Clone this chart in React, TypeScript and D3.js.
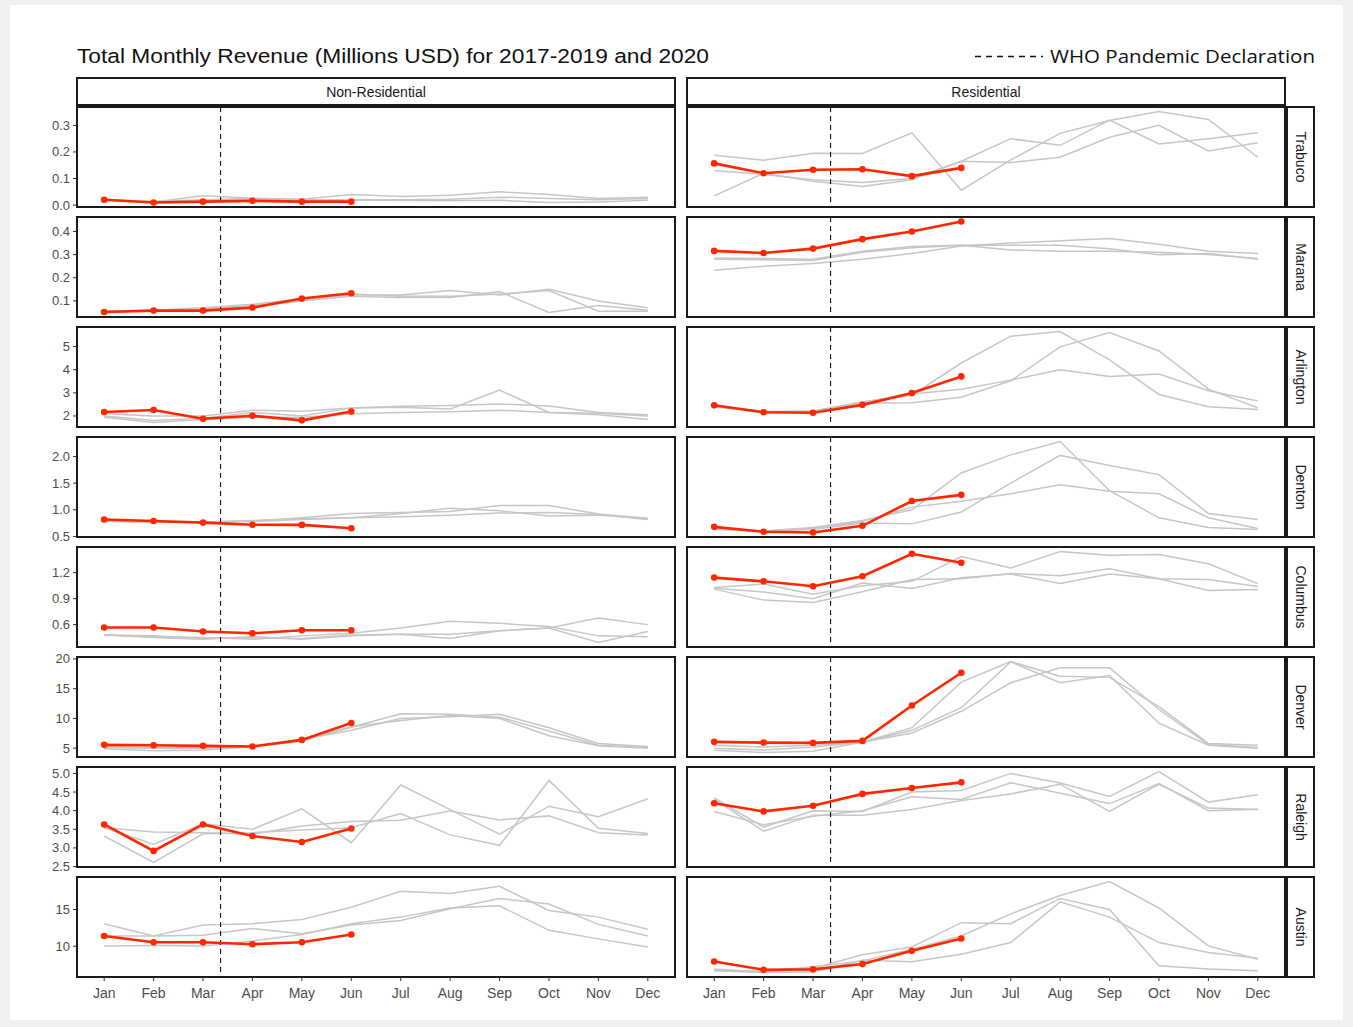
import React from "react";
import * as d3 from "d3";

const months = ["Jan", "Feb", "Mar", "Apr", "May", "Jun", "Jul", "Aug", "Sep", "Oct", "Nov", "Dec"];
const cities = ["Trabuco", "Marana", "Arlington", "Denton", "Columbus", "Denver", "Raleigh", "Austin"];
const types = ["Non-Residential", "Residential"];
const declarationMonth = 3 + 11 / 31; // March 11, 2020

// ---- Trabuco ----
const trabucoNonRes2020 = [0.02, 0.01, 0.013, 0.016, 0.013, 0.013];
const trabucoNonResPast = [
  [0.02, 0.012, 0.035, 0.026, 0.022, 0.04, 0.032, 0.037, 0.05, 0.04, 0.025, 0.03],
  [0.02, 0.014, 0.02, 0.025, 0.02, 0.02, 0.02, 0.022, 0.03, 0.025, 0.02, 0.025],
  [0.018, 0.01, 0.015, 0.02, 0.018, 0.018, 0.017, 0.016, 0.018, 0.01, 0.012, 0.018],
];
const trabucoRes2020 = [0.157, 0.12, 0.133, 0.135, 0.109, 0.14];
const trabucoResPast = [
  [0.188, 0.169, 0.195, 0.194, 0.272, 0.056, 0.17, 0.27, 0.318, 0.352, 0.322, 0.18],
  [0.13, 0.115, 0.095, 0.085, 0.1, 0.165, 0.16, 0.18, 0.255, 0.3, 0.204, 0.235],
  [0.035, 0.12, 0.09, 0.07, 0.095, 0.165, 0.25, 0.225, 0.32, 0.23, 0.25, 0.272],
];
const trabucoTicks = ["0.0", "0.1", "0.2", "0.3"];

// ---- Marana ----
const maranaNonRes2020 = [0.052, 0.058, 0.058, 0.071, 0.11, 0.133];
const maranaNonResPast = [
  [0.055, 0.06, 0.065, 0.08, 0.105, 0.125, 0.125, 0.145, 0.125, 0.15, 0.1, 0.07],
  [0.055, 0.058, 0.06, 0.075, 0.1, 0.12, 0.115, 0.115, 0.14, 0.05, 0.08, 0.06],
  [0.055, 0.06, 0.07, 0.085, 0.11, 0.13, 0.12, 0.12, 0.13, 0.145, 0.055, 0.055],
];
const maranaRes2020 = [0.316, 0.307, 0.326, 0.367, 0.4, 0.443];
const maranaResPast = [
  [0.285, 0.283, 0.28, 0.315, 0.335, 0.34, 0.34, 0.34, 0.325, 0.3, 0.305, 0.28],
  [0.28, 0.278, 0.275, 0.31, 0.33, 0.34, 0.32, 0.315, 0.315, 0.31, 0.3, 0.283],
  [0.232, 0.25, 0.262, 0.28, 0.305, 0.337, 0.35, 0.36, 0.37, 0.345, 0.315, 0.305],
];
const maranaTicks = ["0.1", "0.2", "0.3", "0.4"];

// ---- Arlington ----
const arlingtonNonRes2020 = [2.17, 2.26, 1.88, 2.01, 1.81, 2.19];
const arlingtonNonResPast = [
  [2.1, 2.0, 2.0, 2.25, 2.2, 2.35, 2.42, 2.45, 2.52, 2.43, 2.15, 2.05],
  [2.0, 1.8, 1.9, 2.15, 2.0, 2.35, 2.38, 2.3, 3.12, 2.15, 2.12, 2.0],
  [1.95, 1.72, 1.85, 1.95, 1.95, 2.1, 2.15, 2.18, 2.25, 2.15, 2.05, 1.85],
];
const arlingtonRes2020 = [2.46, 2.16, 2.14, 2.48, 2.99, 3.71];
const arlingtonResPast = [
  [2.45, 2.15, 2.2, 2.6, 2.9, 4.29, 5.45, 5.65, 4.43, 2.93, 2.4, 2.28],
  [2.42, 2.2, 2.2, 2.55, 2.57, 2.81, 3.52, 4.99, 5.61, 4.81, 3.16, 2.35],
  [2.4, 2.15, 2.22, 2.6, 2.95, 3.16, 3.55, 4.0, 3.71, 3.81, 3.09, 2.65],
];
const arlingtonTicks = ["2", "3", "4", "5"];

// ---- Denton ----
const dentonNonRes2020 = [0.817, 0.79, 0.76, 0.72, 0.717, 0.655];
const dentonNonResPast = [
  [0.8, 0.78, 0.77, 0.8, 0.83, 0.85, 0.93, 1.03, 0.98, 0.885, 0.9, 0.83],
  [0.79, 0.77, 0.77, 0.79, 0.85, 0.93, 0.95, 0.97, 1.08, 1.08, 0.92, 0.84],
  [0.78, 0.76, 0.77, 0.78, 0.82, 0.85, 0.87, 0.9, 0.94, 0.95, 0.91, 0.82],
];
const dentonRes2020 = [0.68, 0.587, 0.575, 0.7, 1.165, 1.28];
const dentonResPast = [
  [0.65, 0.6, 0.63, 0.75, 0.736, 0.96, 1.5, 2.02, 1.83, 1.66, 0.93, 0.82],
  [0.63, 0.6, 0.67, 0.8, 1.0, 1.69, 2.03, 2.28, 1.36, 0.85, 0.67, 0.63],
  [0.64, 0.6, 0.65, 0.78, 1.05, 1.16, 1.3, 1.47, 1.35, 1.3, 0.85, 0.65],
];
const dentonTicks = ["0.5", "1.0", "1.5", "2.0"];

// ---- Columbus ----
const columbusNonRes2020 = [0.566, 0.566, 0.52, 0.5, 0.535, 0.535];
const columbusNonResPast = [
  [0.48, 0.46, 0.45, 0.43, 0.47, 0.5, 0.56, 0.64, 0.615, 0.577, 0.47, 0.46],
  [0.48, 0.47, 0.44, 0.45, 0.44, 0.48, 0.49, 0.49, 0.53, 0.56, 0.676, 0.6],
  [0.48, 0.45, 0.43, 0.46, 0.43, 0.47, 0.49, 0.44, 0.53, 0.56, 0.394, 0.52],
];
const columbusRes2020 = [1.143, 1.1, 1.043, 1.158, 1.418, 1.315];
const columbusResPast = [
  [1.028, 1.07, 0.95, 1.05, 1.1, 1.387, 1.253, 1.444, 1.4, 1.41, 1.303, 1.074],
  [1.02, 0.978, 0.9, 1.08, 1.016, 1.14, 1.185, 1.074, 1.185, 1.13, 0.994, 1.005],
  [1.01, 0.883, 0.856, 0.98, 1.12, 1.13, 1.19, 1.165, 1.246, 1.13, 1.12, 1.04],
];
const columbusTicks = ["0.6", "0.9", "1.2"];

// ---- Denver ----
const denverNonRes2020 = [5.56, 5.5, 5.39, 5.28, 6.39, 9.22];
const denverNonResPast = [
  [5.1, 5.0, 5.0, 5.3, 6.5, 8.0, 10.0, 10.3, 10.7, 8.44, 5.8, 5.3],
  [4.9, 4.56, 4.7, 5.2, 6.2, 8.5, 10.78, 10.7, 10.2, 7.9, 5.5, 5.1],
  [5.3, 5.1, 5.1, 5.2, 6.4, 8.6, 9.67, 10.5, 10.0, 7.1, 5.4, 5.0],
];
const denverRes2020 = [6.06, 5.94, 5.89, 6.22, 12.17, 17.67];
const denverResPast = [
  [5.0, 4.7, 5.2, 6.0, 8.44, 16.1, 19.56, 17.1, 16.9, 12.0, 5.8, 5.5],
  [4.67, 4.28, 4.5, 6.0, 7.56, 11.2, 16.0, 18.5, 18.5, 11.5, 5.6, 5.1],
  [5.5, 5.2, 5.5, 6.0, 8.0, 11.8, 19.5, 16.0, 17.2, 9.2, 5.5, 5.0],
];
const denverTicks = ["5", "10", "15", "20"];

// ---- Raleigh ----
const raleighNonRes2020 = [3.63, 2.92, 3.63, 3.32, 3.16, 3.52];
const raleighNonResPast = [
  [3.54, 3.1, 3.65, 3.5, 4.05, 3.14, 4.69, 4.03, 3.37, 4.12, 3.84, 4.32],
  [3.32, 2.61, 3.38, 3.41, 3.48, 3.54, 3.92, 3.35, 3.07, 4.81, 3.53, 3.39],
  [3.54, 3.43, 3.41, 3.37, 3.59, 3.71, 3.74, 3.99, 3.75, 3.86, 3.41, 3.35],
];
const raleighRes2020 = [4.2, 3.98, 4.13, 4.45, 4.61, 4.76];
const raleighResPast = [
  [4.34, 3.56, 4.0, 3.98, 4.5, 4.54, 5.0, 4.74, 4.38, 5.05, 4.23, 4.43],
  [4.3, 3.45, 3.88, 3.88, 4.03, 4.27, 4.45, 4.71, 3.98, 4.71, 4.07, 4.03],
  [3.98, 3.62, 3.85, 4.0, 4.375, 4.3, 4.75, 4.47, 4.19, 4.73, 4.0, 4.04],
];
const raleighTicks = ["2.5", "3.0", "3.5", "4.0", "4.5", "5.0"];

// ---- Austin ----
const austinNonRes2020 = [11.4, 10.54, 10.54, 10.27, 10.54, 11.6];
const austinNonResPast = [
  [13.07, 11.4, 12.9, 13.07, 13.65, 15.3, 17.47, 17.16, 18.15, 14.86, 13.96, 12.3],
  [10.04, 10.1, 10.04, 10.7, 11.6, 13.07, 13.96, 15.2, 15.5, 12.16, 11.0, 9.9],
  [11.4, 11.4, 11.5, 12.4, 11.7, 12.9, 13.5, 15.1, 16.5, 15.75, 12.97, 11.4],
];
const austinRes2020 = [7.93, 6.8, 6.85, 7.57, 9.37, 11.04];
const austinResPast = [
  [6.66, 6.43, 6.5, 8.1, 7.9, 8.92, 10.5, 16.04, 13.96, 10.5, 9.15, 8.38],
  [6.9, 6.5, 7.0, 8.83, 9.9, 13.2, 13.07, 16.5, 15.0, 7.34, 6.9, 6.66],
  [6.7, 6.6, 7.2, 8.0, 9.6, 11.4, 14.4, 16.9, 18.8, 15.2, 10.04, 8.24],
];
const austinTicks = ["10", "15"];

const current2020 = [
  [trabucoNonRes2020, trabucoRes2020],
  [maranaNonRes2020, maranaRes2020],
  [arlingtonNonRes2020, arlingtonRes2020],
  [dentonNonRes2020, dentonRes2020],
  [columbusNonRes2020, columbusRes2020],
  [denverNonRes2020, denverRes2020],
  [raleighNonRes2020, raleighRes2020],
  [austinNonRes2020, austinRes2020],
];
const past = [
  [trabucoNonResPast, trabucoResPast],
  [maranaNonResPast, maranaResPast],
  [arlingtonNonResPast, arlingtonResPast],
  [dentonNonResPast, dentonResPast],
  [columbusNonResPast, columbusResPast],
  [denverNonResPast, denverResPast],
  [raleighNonResPast, raleighResPast],
  [austinNonResPast, austinResPast],
];
const rowTicks = [
  trabucoTicks, maranaTicks, arlingtonTicks, dentonTicks,
  columbusTicks, denverTicks, raleighTicks, austinTicks,
];

// ---- layout ----
const W = 1353;
const H = 1027;
const PANEL_X = [77, 687];
const PANEL_W = 598;
const ROW_TOP = 107;
const ROW_STEP = 110;
const PANEL_H = 100;
const STRIP_TOP = 78;
const STRIP_H = 27;
const RSTRIP_X = 1287;
const RSTRIP_W = 27;
const RED = "#ff2600";
const GREY = "#c6c6c6";
const INK = "#1a1a1a";
const AXIS_TEXT = "#4d4d4d";
const FONT = "'Liberation Sans', Arial, Helvetica, sans-serif";

export default function App() {
  const xScales = PANEL_X.map((x0) =>
    d3.scaleLinear().domain([1 - 0.55, 12 + 0.55]).range([x0, x0 + PANEL_W])
  );

  const rows = cities.map((city, r) => {
    const top = ROW_TOP + r * ROW_STEP;
    const vals: number[] = [];
    for (let c = 0; c < 2; c++) {
      vals.push(...current2020[r][c]);
      past[r][c].forEach((s) => vals.push(...s));
    }
    const [mn, mx] = d3.extent(vals) as [number, number];
    const pad = (mx - mn) * 0.05;
    const y = d3.scaleLinear().domain([mn - pad, mx + pad]).range([top + PANEL_H, top]);
    return { city, r, top, y };
  });

  const lastTop = ROW_TOP + (cities.length - 1) * ROW_STEP;
  const axisY = lastTop + PANEL_H;

  return (
    <svg
      width={W}
      height={H}
      style={{ position: "absolute", left: 0, top: 0, display: "block" }}
      fontFamily={FONT}
    >
      <rect x={0} y={0} width={W} height={H} fill="#efefef" />
      <rect x={10} y={5} width={1333} height={1015} fill="#ffffff" />

      {/* Title */}
      <text x={77} y={63} fontSize={20.5} fill="#111" textLength={632} lengthAdjust="spacingAndGlyphs">
        Total Monthly Revenue (Millions USD) for 2017-2019 and 2020
      </text>

      {/* Legend */}
      <line x1={975} x2={1043} y1={56.5} y2={56.5} stroke="#111" strokeWidth={1.4} strokeDasharray="6,5" />
      <text
        x={1050}
        y={63}
        fontSize={18.5}
        fill="#111"
        fontFamily="'Open Sans', 'DejaVu Sans', sans-serif"
        textLength={265}
        lengthAdjust="spacingAndGlyphs"
      >
        WHO Pandemic Declaration
      </text>

      {/* Column strips */}
      {types.map((t, c) => (
        <g key={t}>
          <rect
            x={PANEL_X[c]}
            y={STRIP_TOP}
            width={PANEL_W}
            height={STRIP_H}
            fill="#fff"
            stroke={INK}
            strokeWidth={2}
          />
          <text
            x={PANEL_X[c] + PANEL_W / 2}
            y={STRIP_TOP + STRIP_H / 2}
            textAnchor="middle"
            dominantBaseline="central"
            fontSize={14}
            fill={INK}
          >
            {t}
          </text>
        </g>
      ))}

      {rows.map(({ city, r, top, y }) => {
        const tickVals = rowTicks[r].map((s) => +s);
        return (
          <g key={city}>
            {/* y axis */}
            {tickVals.map((tv, i) => (
              <g key={i}>
                <line x1={PANEL_X[0] - 4} x2={PANEL_X[0]} y1={y(tv)} y2={y(tv)} stroke="#333" strokeWidth={1} />
                <text
                  x={PANEL_X[0] - 7}
                  y={y(tv)}
                  textAnchor="end"
                  dominantBaseline="central"
                  fontSize={13}
                  fill={AXIS_TEXT}
                >
                  {rowTicks[r][i]}
                </text>
              </g>
            ))}

            {types.map((t, c) => {
              const x = xScales[c];
              const line = d3
                .line<number>()
                .x((_, i) => x(i + 1))
                .y((d) => y(d));
              const cur = current2020[r][c];
              return (
                <g key={t}>
                  <rect x={PANEL_X[c]} y={top} width={PANEL_W} height={PANEL_H} fill="#fff" />
                  {past[r][c].map((s, k) => (
                    <path key={k} d={line(s) || ""} fill="none" stroke={GREY} strokeWidth={1.5} />
                  ))}
                  <line
                    x1={x(declarationMonth)}
                    x2={x(declarationMonth)}
                    y1={top}
                    y2={top + PANEL_H}
                    stroke="#111"
                    strokeWidth={1.1}
                    strokeDasharray="5,4"
                  />
                  <path d={line(cur) || ""} fill="none" stroke={RED} strokeWidth={2.6} />
                  {cur.map((v, i) => (
                    <circle key={i} cx={x(i + 1)} cy={y(v)} r={3.3} fill={RED} />
                  ))}
                  <rect
                    x={PANEL_X[c]}
                    y={top}
                    width={PANEL_W}
                    height={PANEL_H}
                    fill="none"
                    stroke={INK}
                    strokeWidth={2}
                  />
                </g>
              );
            })}

            {/* right strip */}
            <rect x={RSTRIP_X} y={top} width={RSTRIP_W} height={PANEL_H} fill="#fff" stroke={INK} strokeWidth={2} />
            <text
              transform={`translate(${RSTRIP_X + RSTRIP_W / 2},${top + PANEL_H / 2}) rotate(90)`}
              textAnchor="middle"
              dominantBaseline="central"
              fontSize={14}
              fill={INK}
            >
              {city}
            </text>
          </g>
        );
      })}

      {/* x axes */}
      {types.map((t, c) =>
        months.map((m, i) => (
          <g key={t + m}>
            <line
              x1={xScales[c](i + 1)}
              x2={xScales[c](i + 1)}
              y1={axisY}
              y2={axisY + 4}
              stroke="#333"
              strokeWidth={1}
            />
            <text x={xScales[c](i + 1)} y={axisY + 21} textAnchor="middle" fontSize={14} fill={AXIS_TEXT}>
              {m}
            </text>
          </g>
        ))
      )}
    </svg>
  );
}
